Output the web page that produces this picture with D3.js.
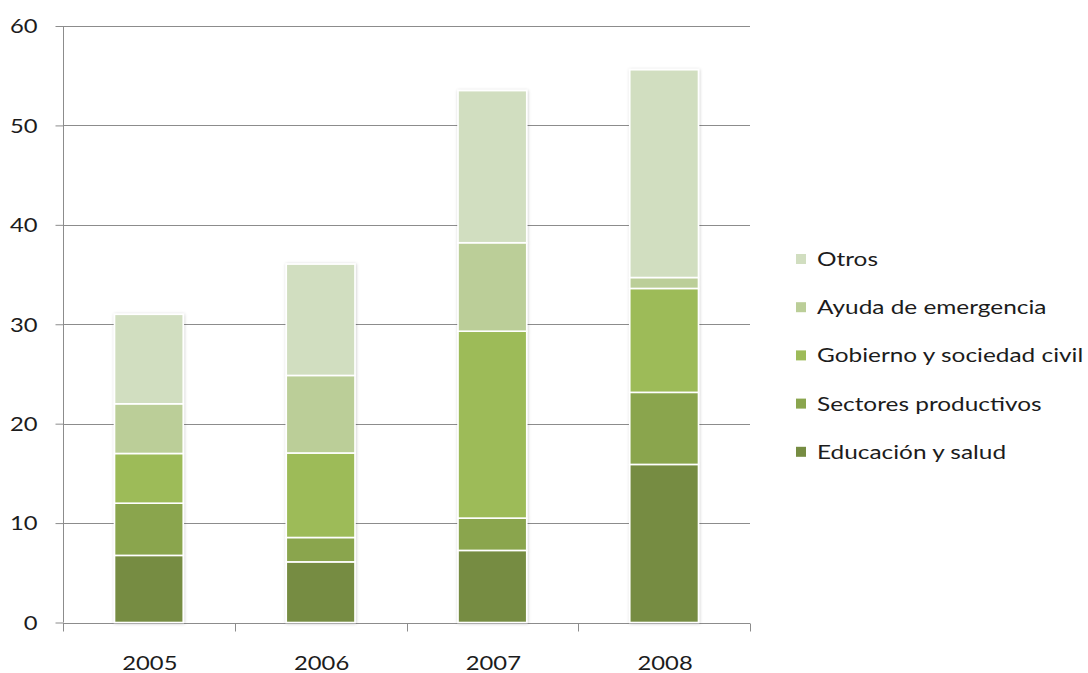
<!DOCTYPE html>
<html>
<head>
<meta charset="utf-8">
<script src="https://cdn.jsdelivr.net/npm/d3@7"></script>
<style>
  html, body { margin: 0; padding: 0; background: #fff; }
  svg text { font-family: Lato, "Open Sans", sans-serif; fill: #1c1c1c; }
</style>
</head>
<body>
<svg id="chart" width="1088" height="673"></svg>
<script>
// Years on the category axis
const years = ["2005", "2006", "2007", "2008"];

// Series, bottom of the stack first
const seriesNames = ["Educación y salud", "Sectores productivos", "Gobierno y sociedad civil", "Ayuda de emergencia", "Otros"];
const educacion = [6.75, 6.1, 7.25, 15.9];
const sectores = [5.25, 2.45, 3.25, 7.25];
const gobierno = [5.0, 8.5, 18.8, 10.45];
const ayuda = [5.0, 7.8, 8.9, 1.1];
const otros = [9.0, 11.2, 15.3, 20.9];
const seriesColors = ["#768c42", "#8aa54e", "#9dbb59", "#bbce98", "#d1dec0"];

// Value axis ticks
const yTicks = [0, 10, 20, 30, 40, 50, 60];

const seriesValues = [educacion, sectores, gobierno, ayuda, otros];
const rows = years.map((yr, i) => {
  const r = { year: yr };
  seriesNames.forEach((n, k) => { r[n] = seriesValues[k][i]; });
  return r;
});
const stacked = d3.stack().keys(seriesNames)(rows);

const svg = d3.select("#chart");
const plotLeft = 63, plotRight = 750, plotTop = 26, plotBottom = 622.5;
const textStretch = 1.22; // wide lettering

const x = d3.scaleBand().domain(years).range([plotLeft, plotRight]).paddingInner(0.6).paddingOuter(0.3);
const y = d3.scaleLinear().domain([0, 60]).range([plotBottom, plotTop]);

// Places a horizontally widened label at (px, py)
function wideText(sel, px, py, anchor) {
  sel.attr("x", 0).attr("y", 0)
    .attr("text-anchor", anchor)
    .attr("transform", (d, i) => `translate(${typeof px === "function" ? px(d, i) : px},${typeof py === "function" ? py(d, i) : py}) scale(${textStretch},1)`);
}

// Soft shadow behind the stacked columns
const defs = svg.append("defs");
const f = defs.append("filter").attr("id", "shadow").attr("x", "-20%").attr("y", "-5%").attr("width", "140%").attr("height", "110%");
f.append("feDropShadow").attr("dx", 0.5).attr("dy", 0.5).attr("stdDeviation", 1.8)
  .attr("flood-color", "#000").attr("flood-opacity", 0.22);

// Horizontal gridlines
svg.append("g")
  .selectAll("line")
  .data(yTicks.filter(t => t > 0))
  .join("line")
  .attr("x1", plotLeft).attr("x2", plotRight)
  .attr("y1", d => Math.round(y(d)) + 0.5).attr("y2", d => Math.round(y(d)) + 0.5)
  .attr("stroke", "#8c8c8c").attr("stroke-width", 1);

// Value axis
const yAxis = svg.append("g")
  .attr("transform", `translate(${plotLeft + 0.5},0)`)
  .call(d3.axisLeft(y).tickValues(yTicks).tickSize(8).tickFormat(d3.format("d")));
yAxis.select(".domain").attr("stroke", "#8c8c8c").attr("d", `M0,${y(60)}V${y(0)}`);
yAxis.selectAll(".tick line").attr("stroke", "#8c8c8c");
yAxis.selectAll(".tick text")
  .attr("font-size", 19.5).attr("fill", "#1c1c1c").attr("dy", "0.35em")
  .call(wideText, -26, 0, "end");

// Category axis with tick marks between categories
const xAxisG = svg.append("g").attr("transform", `translate(0,${Math.round(plotBottom) + 0.5})`);
xAxisG.append("line").attr("x1", plotLeft).attr("x2", plotRight).attr("stroke", "#8c8c8c");
const boundaries = d3.range(years.length + 1).map(i => plotLeft + i * (plotRight - plotLeft) / years.length);
xAxisG.selectAll("line.tk").data(boundaries).join("line").attr("class", "tk")
  .attr("x1", d => Math.round(d) + 0.5).attr("x2", d => Math.round(d) + 0.5)
  .attr("y1", 0).attr("y2", 8).attr("stroke", "#8c8c8c");
xAxisG.selectAll("text").data(years).join("text")
  .attr("font-size", 19.5)
  .text(d => d)
  .call(wideText, d => x(d) + x.bandwidth() / 2 + 1, 46, "middle");

// Stacked columns
const barGroups = svg.append("g").selectAll("g")
  .data(years)
  .join("g")
  .attr("filter", "url(#shadow)");

barGroups.each(function(year, i) {
  const g = d3.select(this);
  stacked.forEach((layer, k) => {
    const d = layer[i];
    g.append("rect")
      .attr("x", x(year))
      .attr("width", x.bandwidth())
      .attr("y", y(d[1]))
      .attr("height", y(d[0]) - y(d[1]))
      .attr("fill", seriesColors[k])
      .attr("stroke", "#ffffff")
      .attr("stroke-width", 1.6);
  });
});

// Legend, top entry is the top of the stack
const legendItems = seriesNames.map((n, k) => ({ name: n, color: seriesColors[k] })).reverse();
const legend = svg.append("g").attr("transform", "translate(796,259)");
const li = legend.selectAll("g").data(legendItems).join("g")
  .attr("transform", (d, i) => `translate(0,${i * 48.2})`);
li.append("rect").attr("x", 0).attr("y", -5).attr("width", 10).attr("height", 10).attr("fill", d => d.color);
li.append("text").attr("dy", "0.35em").attr("font-size", 20).text(d => d.name)
  .call(wideText, 21, 0, "start");
</script>
</body>
</html>
